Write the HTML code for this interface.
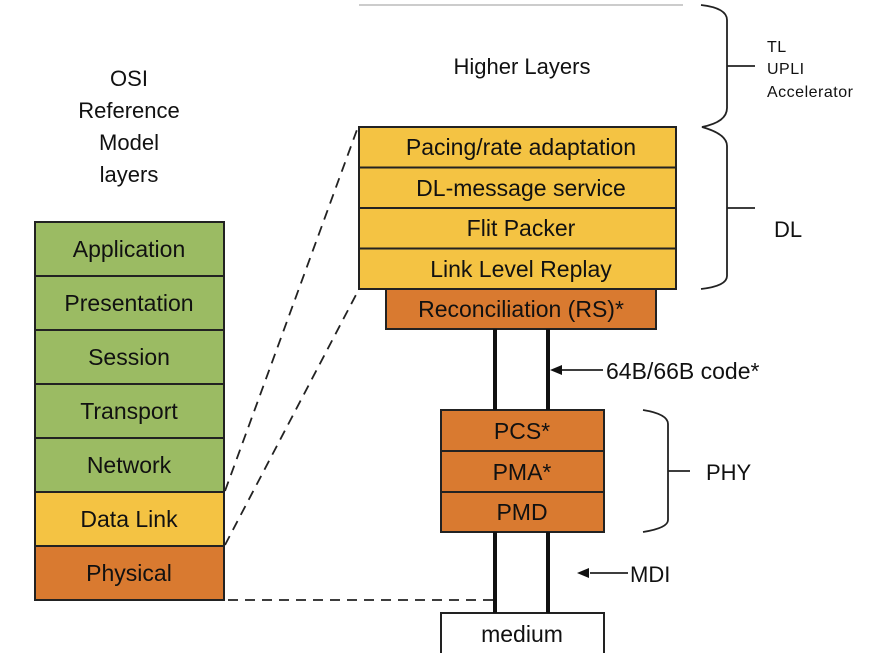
<!DOCTYPE html>
<html><head><meta charset="utf-8"><style>html,body{margin:0;padding:0;background:#fff}svg{display:block}</style></head>
<body>
<svg width="875" height="653" viewBox="0 0 875 653" xmlns="http://www.w3.org/2000/svg" font-family="Liberation Sans, DejaVu Sans, sans-serif">
<rect width="875" height="653" fill="#fff"/>
<line x1="359" y1="5" x2="683" y2="5" stroke="#bbb" stroke-width="1.5"/>
<g font-size="22" fill="#111" text-anchor="middle">
<text x="129" y="86">OSI</text><text x="129" y="118">Reference</text><text x="129" y="150">Model</text><text x="129" y="182">layers</text>
<text x="522" y="74">Higher Layers</text>
</g>
<g stroke="#222" stroke-width="2">
<rect x="35" y="222" width="189" height="54" fill="#9bbb63"/>
<rect x="35" y="276" width="189" height="54" fill="#9bbb63"/>
<rect x="35" y="330" width="189" height="54" fill="#9bbb63"/>
<rect x="35" y="384" width="189" height="54" fill="#9bbb63"/>
<rect x="35" y="438" width="189" height="54" fill="#9bbb63"/>
<rect x="35" y="492" width="189" height="54" fill="#f4c343"/>
<rect x="35" y="546" width="189" height="54" fill="#d97a30"/>
<rect x="359" y="127" width="317" height="40.5" fill="#f4c343"/>
<rect x="359" y="167.5" width="317" height="40.5" fill="#f4c343"/>
<rect x="359" y="208" width="317" height="40.5" fill="#f4c343"/>
<rect x="359" y="248.5" width="317" height="40.5" fill="#f4c343"/>
<rect x="386" y="289" width="270" height="40" fill="#d97a30"/>
<rect x="441" y="410" width="163" height="41" fill="#d97a30"/>
<rect x="441" y="451" width="163" height="41" fill="#d97a30"/>
<rect x="441" y="492" width="163" height="40" fill="#d97a30"/>
<rect x="441" y="613" width="163" height="45" fill="#fff"/>
</g>
<g stroke="#111" stroke-width="4">
<line x1="495" y1="329" x2="495" y2="410"/><line x1="548" y1="329" x2="548" y2="410"/>
<line x1="495" y1="532" x2="495" y2="613"/><line x1="548" y1="532" x2="548" y2="613"/>
</g>
<g stroke="#222" stroke-width="1.8" stroke-dasharray="10,7" fill="none">
<line x1="225" y1="491" x2="358" y2="127"/>
<line x1="225" y1="545" x2="358" y2="291"/>
<line x1="228" y1="600" x2="494" y2="600"/>
</g>
<g stroke="#222" stroke-width="1.8" fill="none">
<path d="M701 5 Q727 8 727 20 L727 108 Q727 122 702 127 Q727 134 727 146 L727 276 Q727 286 701 289"/>
<line x1="727" y1="66" x2="755" y2="66"/>
<line x1="727" y1="208" x2="755" y2="208"/>
<path d="M643 410 Q668 414 668 424 L668 520 Q668 528 643 532"/>
<line x1="668" y1="471" x2="690" y2="471"/>
<line x1="560" y1="370" x2="603" y2="370"/>
<line x1="590" y1="573" x2="628" y2="573"/>
</g>
<polygon points="550,370 562,365 562,375" fill="#111"/>
<polygon points="577,573 589,568 589,578" fill="#111"/>
<g font-size="23" fill="#111" text-anchor="middle">
<text x="129" y="257">Application</text><text x="129" y="311">Presentation</text><text x="129" y="365">Session</text>
<text x="129" y="419">Transport</text><text x="129" y="473">Network</text><text x="129" y="527">Data Link</text><text x="129" y="581">Physical</text>
<text x="521" y="155">Pacing/rate adaptation</text><text x="521" y="196">DL-message service</text>
<text x="521" y="236">Flit Packer</text><text x="521" y="277">Link Level Replay</text>
<text x="521" y="317">Reconciliation (RS)*</text>
<text x="522" y="439">PCS*</text><text x="522" y="480">PMA*</text><text x="522" y="520">PMD</text>
<text x="522" y="642">medium</text>
</g>
<g font-size="22" fill="#111">
<text x="606" y="379" font-size="23">64B/66B code*</text>
<text x="630" y="582">MDI</text>
<text x="706" y="480">PHY</text>
<text x="774" y="237">DL</text>
</g>
<g font-size="16" fill="#111" letter-spacing="0.5">
<text x="767" y="52">TL</text><text x="767" y="74">UPLI</text><text x="767" y="97">Accelerator</text>
</g>
</svg>
</body></html>
